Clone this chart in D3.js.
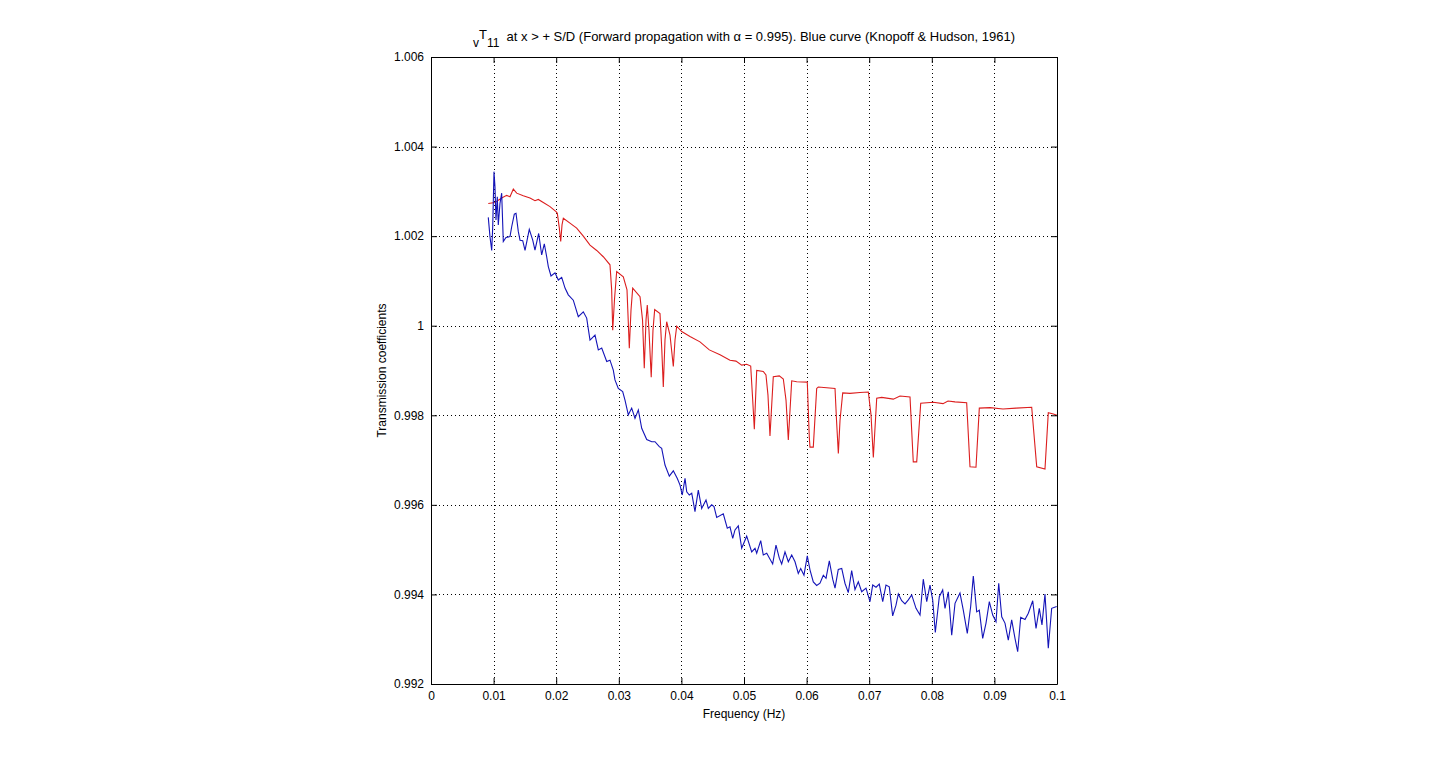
<!DOCTYPE html>
<html>
<head>
<meta charset="utf-8">
<script src="https://cdn.jsdelivr.net/npm/d3@7"></script>
<style>
  body { margin: 0; background: #fff; }
  svg text { font-family: "Liberation Sans", Arial, sans-serif; font-size: 12px; fill: #000; }
</style>
</head>
<body>
<svg id="chart" width="1440" height="768"></svg>
<script>
// tick values
var xTicks = [0, 0.01, 0.02, 0.03, 0.04, 0.05, 0.06, 0.07, 0.08, 0.09, 0.1];
var xTickLabels = ["0", "0.01", "0.02", "0.03", "0.04", "0.05", "0.06", "0.07", "0.08", "0.09", "0.1"];
var yTicks = [0.992, 0.994, 0.996, 0.998, 1.0, 1.002, 1.004, 1.006];
var yTickLabels = ["0.992", "0.994", "0.996", "0.998", "1", "1.002", "1.004", "1.006"];

// blue curve (Knopoff & Hudson, 1961)
var blueFreq = [0.00915, 0.00942, 0.00970, 0.00986, 0.01006, 0.01022, 0.01038, 0.01059, 0.01075, 0.01102,
  0.01129, 0.01155, 0.01198, 0.01262, 0.01289, 0.01331, 0.01358, 0.01395, 0.01422, 0.01465,
  0.01502, 0.01570, 0.01625, 0.01661, 0.01720, 0.01768, 0.01810, 0.01848, 0.01874, 0.01917,
  0.01981, 0.02034, 0.02088, 0.02141, 0.02193, 0.02273, 0.02353, 0.02433, 0.02487, 0.02540,
  0.02620, 0.02673, 0.02727, 0.02807, 0.02859, 0.02912, 0.02939, 0.02992, 0.03062, 0.03099,
  0.03152, 0.03206, 0.03259, 0.03312, 0.03366, 0.03446, 0.03526, 0.03578, 0.03647, 0.03685,
  0.03738, 0.03807, 0.03871, 0.03935, 0.03978, 0.04014, 0.04058, 0.04085, 0.04126, 0.04165,
  0.04217, 0.04270, 0.04324, 0.04393, 0.04430, 0.04484, 0.04521, 0.04564, 0.04669, 0.04733,
  0.04776, 0.04820, 0.04856, 0.04909, 0.04963, 0.05043, 0.05123, 0.05176, 0.05203, 0.05267,
  0.05308, 0.05363, 0.05458, 0.05511, 0.05564, 0.05602, 0.05655, 0.05708, 0.05762, 0.05815,
  0.05867, 0.05906, 0.05958, 0.06011, 0.06054, 0.06107, 0.06161, 0.06214, 0.06267, 0.06310,
  0.06363, 0.06417, 0.06454, 0.06506, 0.06561, 0.06613, 0.06666, 0.06720, 0.06773, 0.06826,
  0.06880, 0.06949, 0.07013, 0.07056, 0.07109, 0.07161, 0.07216, 0.07268, 0.07321, 0.07375,
  0.07428, 0.07465, 0.07519, 0.07572, 0.07625, 0.07679, 0.07748, 0.07812, 0.07864, 0.07919,
  0.07971, 0.08014, 0.08056, 0.08120, 0.08174, 0.08211, 0.08264, 0.08318, 0.08371, 0.08450,
  0.08503, 0.08567, 0.08621, 0.08663, 0.08717, 0.08759, 0.08813, 0.08866, 0.08919, 0.08973,
  0.09026, 0.09069, 0.09117, 0.09169, 0.09222, 0.09276, 0.09329, 0.09372, 0.09420, 0.09489,
  0.09542, 0.09612, 0.09665, 0.09717, 0.09760, 0.09808, 0.09861, 0.09915, 0.09995];
var blueT = [1.00242, 1.00199, 1.00168, 1.00221, 1.00344, 1.00310, 1.00236, 1.00288, 1.00225, 1.00273,
  1.00296, 1.00188, 1.00197, 1.00199, 1.00221, 1.00249, 1.00251, 1.00210, 1.00191, 1.00190,
  1.00168, 1.00215, 1.00191, 1.00169, 1.00206, 1.00158, 1.00183, 1.00154, 1.00132, 1.00111,
  1.00118, 1.00102, 1.00108, 1.00084, 1.00069, 1.00057, 1.00020, 1.00031, 1.00017, 0.99968,
  0.99979, 0.99946, 0.99950, 0.99920, 0.99923, 0.99901, 0.99879, 0.99860, 0.99853, 0.99834,
  0.99801, 0.99816, 0.99793, 0.99812, 0.99771, 0.99746, 0.99741, 0.99741, 0.99730, 0.99726,
  0.99689, 0.99664, 0.99676, 0.99659, 0.99644, 0.99622, 0.99659, 0.99629, 0.99622, 0.99626,
  0.99585, 0.99633, 0.99592, 0.99611, 0.99592, 0.99600, 0.99596, 0.99572, 0.99580, 0.99548,
  0.99551, 0.99525, 0.99544, 0.99553, 0.99503, 0.99530, 0.99495, 0.99503, 0.99492, 0.99520,
  0.99488, 0.99492, 0.99468, 0.99510, 0.99481, 0.99468, 0.99495, 0.99473, 0.99488, 0.99473,
  0.99447, 0.99458, 0.99443, 0.99486, 0.99455, 0.99428, 0.99420, 0.99425, 0.99443, 0.99436,
  0.99475, 0.99434, 0.99414, 0.99456, 0.99458, 0.99425, 0.99404, 0.99453, 0.99411, 0.99428,
  0.99406, 0.99414, 0.99384, 0.99421, 0.99416, 0.99423, 0.99384, 0.99421, 0.99417, 0.99352,
  0.99376, 0.99401, 0.99386, 0.99379, 0.99388, 0.99399, 0.99369, 0.99354, 0.99434, 0.99384,
  0.99421, 0.99388, 0.99315, 0.99395, 0.99410, 0.99369, 0.99406, 0.99309, 0.99380, 0.99403,
  0.99365, 0.99313, 0.99373, 0.99441, 0.99361, 0.99365, 0.99302, 0.99336, 0.99384, 0.99354,
  0.99339, 0.99425, 0.99350, 0.99336, 0.99298, 0.99343, 0.99302, 0.99272, 0.99349, 0.99344,
  0.99358, 0.99386, 0.99324, 0.99369, 0.99332, 0.99401, 0.99280, 0.99369, 0.99373];

// red curve (forward propagation, alpha = 0.995)
var redFreq = [0.00915, 0.01022, 0.01129, 0.01209, 0.01262, 0.01315, 0.01369, 0.01474, 0.01581, 0.01661,
  0.01714, 0.01794, 0.01901, 0.01997, 0.02018, 0.02050, 0.02072, 0.02093, 0.02114, 0.02220,
  0.02327, 0.02433, 0.02540, 0.02647, 0.02752, 0.02859, 0.02886, 0.02903, 0.02931, 0.02966,
  0.03072, 0.03131, 0.03168, 0.03195, 0.03222, 0.03339, 0.03379, 0.03407, 0.03435, 0.03455,
  0.03482, 0.03518, 0.03546, 0.03573, 0.03658, 0.03687, 0.03711, 0.03738, 0.03765, 0.03818,
  0.03871, 0.03898, 0.03925, 0.04005, 0.04137, 0.04297, 0.04446, 0.04617, 0.04776, 0.04872,
  0.04963, 0.05043, 0.05107, 0.05139, 0.05165, 0.05203, 0.05308, 0.05351, 0.05383, 0.05415,
  0.05468, 0.05564, 0.05628, 0.05671, 0.05708, 0.05762, 0.05842, 0.06011, 0.06043, 0.06054,
  0.06107, 0.06161, 0.06187, 0.06454, 0.06478, 0.06507, 0.06534, 0.06577, 0.06693, 0.06853,
  0.06986, 0.07029, 0.07066, 0.07120, 0.07200, 0.07385, 0.07492, 0.07652, 0.07704, 0.07759,
  0.07823, 0.08024, 0.08179, 0.08259, 0.08371, 0.08557, 0.08610, 0.08706, 0.08759, 0.08930,
  0.09137, 0.09345, 0.09596, 0.09676, 0.09808, 0.09861, 0.09941, 0.10000];
var redT = [1.00273, 1.00275, 1.00285, 1.00291, 1.00288, 1.00305, 1.00296, 1.00290, 1.00285, 1.00279,
  1.00282, 1.00275, 1.00266, 1.00255, 1.00251, 1.00218, 1.00188, 1.00225, 1.00240, 1.00229,
  1.00218, 1.00200, 1.00180, 1.00168, 1.00154, 1.00136, 1.00080, 0.99990, 1.00058, 1.00121,
  1.00109, 1.00080, 0.99950, 1.00035, 1.00084, 1.00065, 1.00013, 0.99905, 1.00013, 1.00046,
  0.99990, 0.99885, 0.99990, 1.00036, 1.00027, 0.99946, 0.99863, 0.99968, 1.00009, 0.99979,
  0.99909, 0.99968, 0.99999, 0.99987, 0.99976, 0.99964, 0.99946, 0.99935, 0.99923, 0.99921,
  0.99912, 0.99914, 0.99910, 0.99834, 0.99769, 0.99900, 0.99898, 0.99890, 0.99845, 0.99754,
  0.99886, 0.99888, 0.99881, 0.99834, 0.99745, 0.99877, 0.99875, 0.99874, 0.99751, 0.99729,
  0.99729, 0.99860, 0.99863, 0.99860, 0.99789, 0.99715, 0.99789, 0.99850, 0.99849, 0.99851,
  0.99852, 0.99801, 0.99706, 0.99838, 0.99840, 0.99836, 0.99843, 0.99841, 0.99696, 0.99696,
  0.99827, 0.99829, 0.99826, 0.99832, 0.99830, 0.99828, 0.99685, 0.99684, 0.99816, 0.99817,
  0.99814, 0.99816, 0.99818, 0.99685, 0.99680, 0.99806, 0.99803, 0.99800];

var svg = d3.select("#chart");

var plotLeft = 431, plotRight = 1057, plotTop = 57, plotBottom = 684;

var x = d3.scaleLinear().domain([0, 0.1]).range([plotLeft, plotRight]);
var y = d3.scaleLinear().domain([0.992, 1.006]).range([plotBottom, plotTop]);

// dotted grid
var grid = svg.append("g").attr("class", "grid");
grid.selectAll("line.gx")
  .data(xTicks.slice(1, -1))
  .enter().append("line")
  .attr("x1", function(d) { return Math.round(x(d)) + 0.5; })
  .attr("x2", function(d) { return Math.round(x(d)) + 0.5; })
  .attr("y1", plotTop)
  .attr("y2", plotBottom)
  .attr("stroke", "#000")
  .attr("stroke-width", 1)
  .attr("stroke-dasharray", "1,3");

grid.selectAll("line.gy")
  .data(yTicks.slice(1, -1))
  .enter().append("line")
  .attr("y1", function(d) { return Math.round(y(d)) + 0.5; })
  .attr("y2", function(d) { return Math.round(y(d)) + 0.5; })
  .attr("x1", plotLeft)
  .attr("x2", plotRight)
  .attr("stroke", "#000")
  .attr("stroke-width", 1)
  .attr("stroke-dasharray", "1,3");

// curves
var line = d3.line()
  .x(function(d) { return x(d[0]); })
  .y(function(d) { return y(d[1]); });

var redPts = d3.zip(redFreq, redT);
var bluePts = d3.zip(blueFreq, blueT);

svg.append("path")
  .datum(redPts)
  .attr("d", line)
  .attr("fill", "none")
  .attr("stroke", "#dc1e1e")
  .attr("stroke-width", 1.1);

svg.append("path")
  .datum(bluePts)
  .attr("d", line)
  .attr("fill", "none")
  .attr("stroke", "#1414b8")
  .attr("stroke-width", 1.1);

// axes (ticks point inward, MATLAB style)
var xAxisB = d3.axisBottom(x).tickValues(xTicks)
  .tickFormat(function(d, i) { return xTickLabels[i]; })
  .tickSizeInner(-6).tickSizeOuter(0).tickPadding(7);
var xAxisT = d3.axisTop(x).tickValues(xTicks).tickFormat("")
  .tickSizeInner(-6).tickSizeOuter(0);
var yAxisL = d3.axisLeft(y).tickValues(yTicks)
  .tickFormat(function(d, i) { return yTickLabels[i]; })
  .tickSizeInner(-6).tickSizeOuter(0).tickPadding(7);
var yAxisR = d3.axisRight(y).tickValues(yTicks).tickFormat("")
  .tickSizeInner(-6).tickSizeOuter(0);

function styleAxis(g) {
  g.select(".domain").attr("stroke", "#000");
  g.selectAll(".tick line").attr("stroke", "#000");
  g.selectAll(".tick text")
    .attr("fill", "#000")
    .style("font-family", "\"Liberation Sans\", Arial, sans-serif")
    .style("font-size", "12px");
}

svg.append("g").attr("transform", "translate(0," + plotBottom + ")").call(xAxisB).call(styleAxis);
svg.append("g").attr("transform", "translate(0," + plotTop + ")").call(xAxisT).call(styleAxis);
svg.append("g").attr("transform", "translate(" + plotLeft + ",0)").call(yAxisL).call(styleAxis);
svg.append("g").attr("transform", "translate(" + plotRight + ",0)").call(yAxisR).call(styleAxis);

// labels
svg.append("text")
  .attr("x", (plotLeft + plotRight) / 2)
  .attr("y", 718)
  .attr("text-anchor", "middle")
  .text("Frequency (Hz)");

svg.append("text")
  .attr("transform", "translate(386," + ((plotTop + plotBottom) / 2) + ") rotate(-90)")
  .attr("text-anchor", "middle")
  .text("Transmission coefficients");

// title with subscripts
var title = svg.append("text")
  .attr("x", (plotLeft + plotRight) / 2)
  .attr("y", 41)
  .attr("text-anchor", "middle")
  .style("font-size", "13px");
title.append("tspan").attr("dy", 6).style("font-size", "12px").text("v");
title.append("tspan").attr("dy", -8).text("T");
title.append("tspan").attr("dy", 8).style("font-size", "12px").text("11");
title.append("tspan").attr("dy", -6)
  .text("\u00a0\u00a0at x > + S/D (Forward propagation with \u03b1 = 0.995). Blue curve (Knopoff & Hudson, 1961)");
</script>
</body>
</html>
